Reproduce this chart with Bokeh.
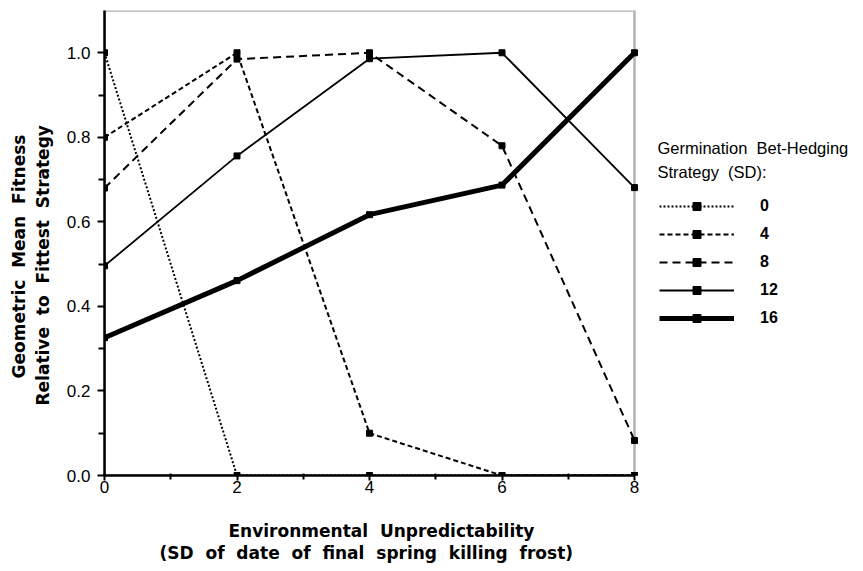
from bokeh.plotting import figure
from bokeh.models import (FixedTicker, NumeralTickFormatter, Legend, LegendItem, Label,
                          Range1d, BoxAnnotation, Title)
from bokeh.embed import file_html
from bokeh.resources import INLINE

NB = "\u00a0"

# ---- data ----
unpredictability = [0, 2, 4, 6, 8]
strategies = ["0", "4", "8", "12", "16"]
fitness_sd0 = [1.00, 0.00, 0.00, 0.00, 0.00]
fitness_sd4 = [0.80, 1.00, 0.10, 0.00, 0.00]
fitness_sd8 = [0.68, 0.985, 1.00, 0.78, 0.083]
fitness_sd12 = [0.496, 0.756, 0.986, 1.00, 0.681]
fitness_sd16 = [0.326, 0.461, 0.617, 0.687, 1.00]
x_ticks = [0, 2, 4, 6, 8]
x_minor = [1, 3, 5, 7]
y_ticks = [0.0, 0.2, 0.4, 0.6, 0.8, 1.0]
y_minor = [0.1, 0.3, 0.5, 0.7, 0.9]
X_MAX, Y_MAX = 8, 1.1

x_title = ["Environmental  Unpredictability", "(SD  of  date  of  final  spring  killing  frost)"]
y_title = ["Geometric  Mean  Fitness", "Relative  to  Fittest  Strategy"]
legend_title = ["Germination  Bet-Hedging", "Strategy  (SD):"]

FONT = "Liberation Sans"
LABEL_FONT = "DejaVu Sans"
PLOT_W = 530          # pixel width of the data box (x 0..8)
FRAME_W = 751         # frame extended to the right to host the legend
FRAME_H = 465
PX_PER_X = PLOT_W / X_MAX
PX_PER_Y = FRAME_H / Y_MAX


def nb(s):
    return s.replace(" ", NB)


p = figure(output_backend="svg", toolbar_location=None, title=None,
           frame_width=FRAME_W, frame_height=FRAME_H,
           min_border_left=104, min_border_right=0,
           min_border_top=10, min_border_bottom=88,
           x_range=Range1d(0, X_MAX * FRAME_W / PLOT_W), y_range=Range1d(0, Y_MAX))
p.background_fill_color = "white"
p.border_fill_color = "white"
p.grid.visible = False
p.outline_line_color = None

p.add_layout(BoxAnnotation(left=0, right=X_MAX, bottom=0, top=Y_MAX,
                           fill_alpha=0, line_color="black", line_width=2.5))

for ax in (p.xaxis[0], p.yaxis[0]):
    ax.axis_line_width = 2.5
    ax.axis_line_color = "black"
    ax.major_tick_line_width = 2
    ax.minor_tick_line_width = 2
    ax.major_label_text_font = FONT
    ax.major_label_text_font_size = "17px"
    ax.major_label_text_color = "black"
    # invisible spacer label that pushes the real titles outward
    ax.axis_label = NB
    ax.axis_label_text_font_size = "2px"

p.xaxis.bounds = (0, X_MAX)
p.yaxis.bounds = (0, Y_MAX)
p.xaxis.ticker = FixedTicker(ticks=x_ticks, minor_ticks=x_minor)
p.yaxis.ticker = FixedTicker(ticks=y_ticks, minor_ticks=y_minor)
p.yaxis.formatter = NumeralTickFormatter(format="0.0")
p.xaxis.major_tick_out = 5
p.xaxis.major_tick_in = 2
p.xaxis.minor_tick_out = 4
p.xaxis.minor_tick_in = 2
p.xaxis.major_label_standoff = 0
p.xaxis.axis_label_standoff = 18
p.yaxis.major_tick_out = 7
p.yaxis.major_tick_in = 0
p.yaxis.minor_tick_out = 6
p.yaxis.minor_tick_in = 0
p.yaxis.major_label_standoff = 7
p.yaxis.axis_label_standoff = 6


def axis_title(text, offset, standoff):
    return Title(text=nb(text), align="left", offset=offset, standoff=standoff,
                 vertical_align="bottom", text_font=LABEL_FONT, text_font_size="17px",
                 text_font_style="bold", text_color="black")


p.add_layout(axis_title(x_title[0], 124, 0), "below")
p.add_layout(axis_title(x_title[1], 55, 0), "below")
p.add_layout(axis_title(y_title[1], 70, 0), "left")
p.add_layout(axis_title(y_title[0], 97, 4), "left")

series = [fitness_sd0, fitness_sd4, fitness_sd8, fitness_sd12, fitness_sd16]
dashes = ["2 2", "5 3", "8 5", "solid", "solid"]
widths = [2, 2, 2, 1.8, 5]

items = []
for name, ys, dash, w in zip(strategies, series, dashes, widths):
    ln = p.line(unpredictability, ys, line_color="black", line_width=w, line_dash=dash)
    sq = p.scatter(unpredictability, ys, marker="square", size=6,
                   fill_color="black", line_color="black")
    items.append(LegendItem(label=name, renderers=[ln, sq]))

legend = Legend(items=items, location=(555, 147), padding=0, margin=0,
                glyph_width=75, glyph_height=20, label_height=20,
                spacing=8, label_standoff=26,
                border_line_color=None, background_fill_alpha=0,
                label_text_font=FONT, label_text_font_size="16px",
                label_text_font_style="bold", label_text_color="black")
p.add_layout(legend, "center")

# legend title (inside the extended frame, right of the data box)
for txt, ypx in zip(legend_title, [147 - 10, 171 - 10]):
    p.add_layout(Label(x=X_MAX + (657 - 104 - PLOT_W) / PX_PER_X, y=Y_MAX - ypx / PX_PER_Y,
                       text=nb(txt), text_font=FONT, text_font_size="16.5px",
                       text_baseline="middle", text_align="left", text_color="black"))

open("out.html", "w").write(file_html(p, INLINE))
